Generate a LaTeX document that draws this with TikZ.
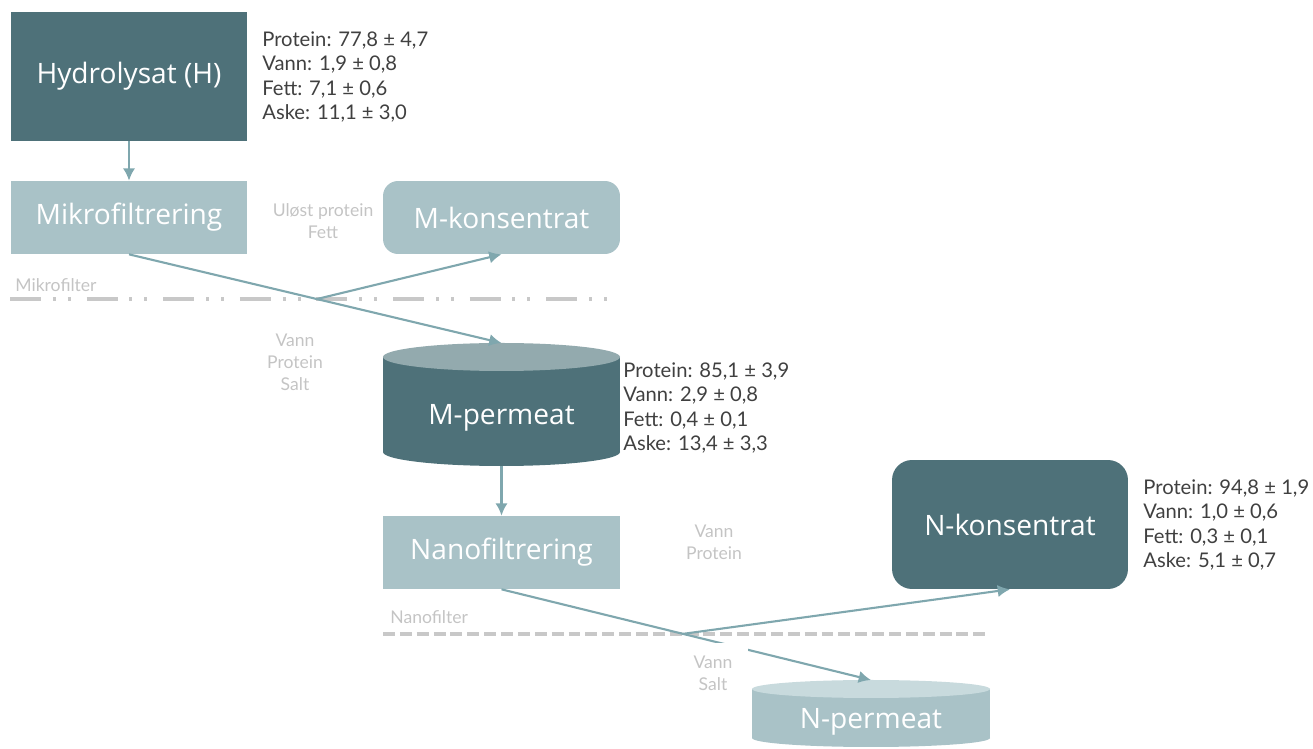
\documentclass[tikz,border=0pt]{standalone}
\usepackage{fontspec}
\setmainfont{Open Sans}
\newfontfamily\notefont{Lato}
\usepackage{tikz}
\usetikzlibrary{arrows.meta}

\definecolor{tealdark}{HTML}{4E7179}
\definecolor{teallight}{HTML}{A9C2C7}
\definecolor{tealtop}{HTML}{93AAAE}
\definecolor{tealpale}{HTML}{C8DADD}
\definecolor{flowcol}{HTML}{7FA7AE}
\definecolor{greytext}{HTML}{C4C4C4}
\definecolor{infotext}{HTML}{404040}
\definecolor{sepcol}{HTML}{C8C8C8}

\begin{document}
\begin{tikzpicture} [
    x=0.02cm, y=0.02cm,
    stage/.style = {rectangle, fill=teallight, text=white, font=\fontsize{16}{18}\selectfont,
        minimum width=4.74cm, minimum height=1.46cm, inner sep=0pt},
    darkstage/.style = {stage, fill=tealdark, minimum height=2.58cm},
    info/.style = {align=left, anchor=west, text=infotext, inner sep=0pt,
        font=\notefont\fontsize{11.5}{13.8}\selectfont},
    note/.style = {align=center, text=greytext, inner sep=0pt,
        font=\notefont\fontsize{10}{12.6}\selectfont},
    flow/.style = {draw=flowcol, line width=1.2pt, -{Latex[length=7pt,width=7pt]}}
]
    \useasboundingbox (0,0) rectangle (1313,-749);

    % filters
    \draw[sepcol, line width=1.8pt, dash pattern=on 17.6pt off 6.8pt on 1.7pt off 6.8pt on 1.7pt off 9pt]
        (10,-299) -- (620,-299);
    \draw[sepcol, line width=1.8pt, dash pattern=on 6.8pt off 2.8pt] (383,-634) -- (990,-634);
    \node[note, anchor=west] (mfilter) at (15,-285) {Mikrofilter};
    \node[note, anchor=west] (nfilter) at (390,-617) {Nanofilter};

    % stages
    \node[darkstage] (hyd) at (129,-76.5) {Hydrolysat (H)};
    \node[stage] (mikro) at (129,-217.5) {Mikrofiltrering};
    \node[stage, rounded corners=0.3cm] (mkons) at (501.5,-217.5) {M-konsentrat};
    \node[stage] (nano) at (501.5,-552.5) {Nanofiltrering};
    \node[darkstage, rounded corners=0.4cm, minimum width=4.72cm] (nkons) at (1010,-524.5) {N-konsentrat};

    % tanks
    \fill[tealdark] (383,-357) rectangle (620,-452);
    \fill[tealdark] (501.5,-452) ellipse[x radius=118.5, y radius=14];
    \fill[tealtop] (501.5,-357) ellipse[x radius=118.5, y radius=14];
    \node[stage, fill=none] (mperm) at (501.5,-418) {M-permeat};
    \coordinate (mpermtop) at (501.5,-343);
    \coordinate (mpermbot) at (501.5,-466);

    \fill[teallight] (752,-689) rectangle (990,-738);
    \fill[teallight] (871,-738) ellipse[x radius=119, y radius=9];
    \fill[tealpale] (871,-689) ellipse[x radius=119, y radius=9];
    \node[stage, fill=none] (nperm) at (871,-722) {N-permeat};
    \coordinate (npermtop) at (871,-680);

    % compositions
    \node[info] (hydinfo) at (262,-77) {Protein: 77,8 ± 4,7\\Vann: 1,9 ± 0,8\\Fett: 7,1 ± 0,6\\Aske: 11,1 ± 3,0};
    \node[info] (mperminfo) at (623,-408) {Protein: 85,1 ± 3,9\\Vann: 2,9 ± 0,8\\Fett: 0,4 ± 0,1\\Aske: 13,4 ± 3,3};
    \node[info] (nkonsinfo) at (1143,-525) {Protein: 94,8 ± 1,9\\Vann: 1,0 ± 0,6\\Fett: 0,3 ± 0,1\\Aske: 5,1 ± 0,7};

    % flows
    \coordinate (mcross) at (317,-299);
    \coordinate (ncross) at (682,-634);
    \draw[flow] (hyd) -- (mikro);
    \draw[flow] (mikro.south) -- (mpermtop);
    \draw[flow] (mcross) -- (mkons.south);
    \draw[flow] (mpermbot) -- (nano);
    \draw[flow] (nano.south) -- (npermtop);
    \draw[flow] (ncross) -- (nkons.south);

    \node[note] (mretained) at (323,-221) {Uløst protein\\Fett};
    \node[note] (mpassed) at (295,-362.5) {Vann\\Protein\\Salt};
    \node[note] (nretained) at (714,-542.5) {Vann\\Protein};
    \node[note, fill=white, inner xsep=9pt, inner ysep=7pt] (npassed) at (713,-673) {Vann\\Salt};
\end{tikzpicture}
\end{document}
